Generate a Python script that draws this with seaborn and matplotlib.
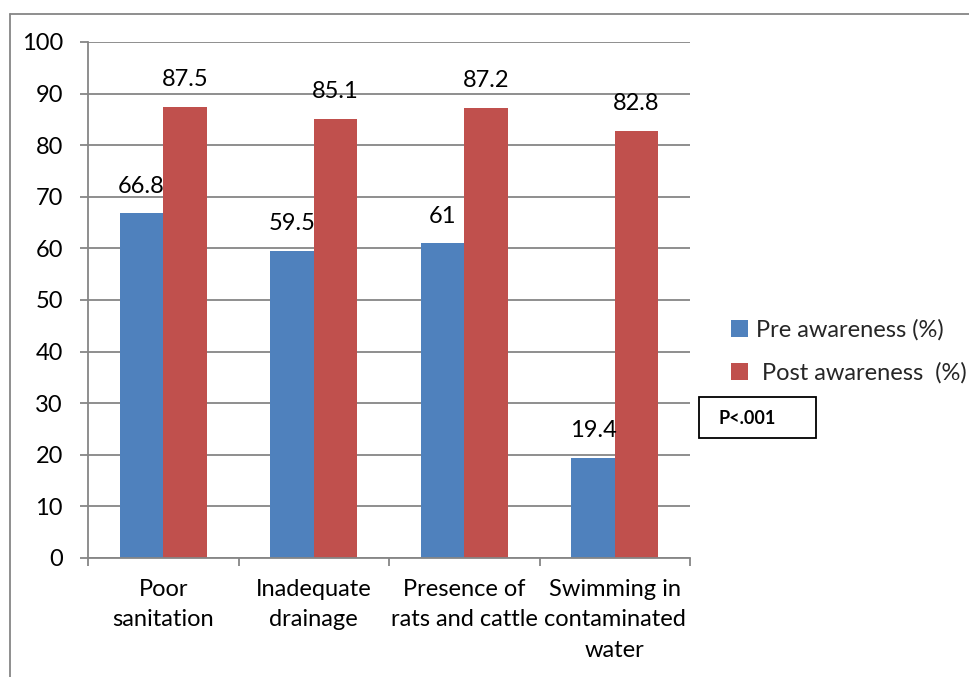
import matplotlib
matplotlib.use("Agg")
import matplotlib.pyplot as plt
import seaborn as sns
import pandas as pd
from matplotlib.lines import Line2D
from matplotlib.patches import Rectangle

categories = ["Poor\nsanitation", "Inadequate\ndrainage", "Presence of\nrats and cattle",
              "Swimming in\ncontaminated\nwater"]
pre_values = [66.8, 59.5, 61, 19.4]
post_values = [87.5, 85.1, 87.2, 82.8]
series_names = ["Pre awareness (%)", " Post awareness  (%)"]
yticks = [0, 10, 20, 30, 40, 50, 60, 70, 80, 90, 100]

df = pd.DataFrame({
    "category": categories * 2,
    "value": pre_values + post_values,
    "series": [series_names[0]] * 4 + [series_names[1]] * 4,
})

sns.set_theme(style="white")
plt.rcParams["font.family"] = ["Lato", "DejaVu Sans"]
FS = 17

W, H = 970, 677
fig = plt.figure(figsize=(W / 100, H / 100), dpi=100)
ax = fig.add_axes([88 / W, (H - 558) / H, (690 - 88) / W, (558 - 42) / H])

colors = ["#4F81BD", "#C0504D"]
sns.barplot(data=df, x="category", y="value", hue="series", palette=colors,
            width=0.578, ax=ax, legend=False, saturation=1, edgecolor="none")

for cont in ax.containers:
    ax.bar_label(cont, fmt="%g", padding=12, fontsize=FS, color="#000000")

ax.set_ylim(0, 100)
ax.set_xlim(-0.5, 3.5)
ax.set_yticks(yticks)
ax.set_yticklabels([str(t) for t in yticks])
ax.yaxis.grid(True, color="#868686", linewidth=1.3)
ax.set_axisbelow(True)
ax.set_xlabel("")
ax.set_ylabel("")

for s in ["top", "right"]:
    ax.spines[s].set_visible(False)
for s in ["left", "bottom"]:
    ax.spines[s].set_color("#868686")
    ax.spines[s].set_linewidth(1.3)

ax.tick_params(axis="y", which="major", left=True, length=6, width=1.3, color="#868686",
               labelsize=FS, pad=12, labelcolor="#000000")
ax.set_xticks([0.5 + i for i in range(-1, 4)], minor=True)
ax.tick_params(axis="x", which="minor", bottom=True, length=6, width=1.3, color="#868686")
ax.tick_params(axis="x", which="major", bottom=False, labelsize=FS, pad=9, labelcolor="#000000")
for lab in ax.get_xticklabels():
    lab.set_linespacing(1.55)

# Legend
handles = [Rectangle((0, 0), 1, 1, facecolor=c, edgecolor="none") for c in colors]
fig.legend(handles, series_names, loc="upper left", bbox_to_anchor=(722 / W, 1 - 310 / H),
           frameon=False, fontsize=FS, handlelength=0.7, handleheight=0.7,
           handletextpad=0.35, labelspacing=0.9, borderaxespad=0)

# P-value box
fig.add_artist(Rectangle((699 / W, 1 - 438 / H), (816 - 699) / W, (438 - 397) / H,
                         transform=fig.transFigure, facecolor="white",
                         edgecolor="#000000", linewidth=1.3))
fig.text(718 / W, 1 - 418 / H, "P<.001", fontsize=13, fontweight="bold",
         va="center", ha="left", color="#000000")

# Outer border (top and left)
fig.add_artist(Line2D([10 / W, 1], [1 - 13.5 / H, 1 - 13.5 / H], transform=fig.transFigure,
                      color="#868686", linewidth=1.3))
fig.add_artist(Line2D([10 / W, 10 / W], [0, 1 - 13.5 / H], transform=fig.transFigure,
                      color="#868686", linewidth=1.3))

fig.savefig("out.png", dpi=100, facecolor="white")
